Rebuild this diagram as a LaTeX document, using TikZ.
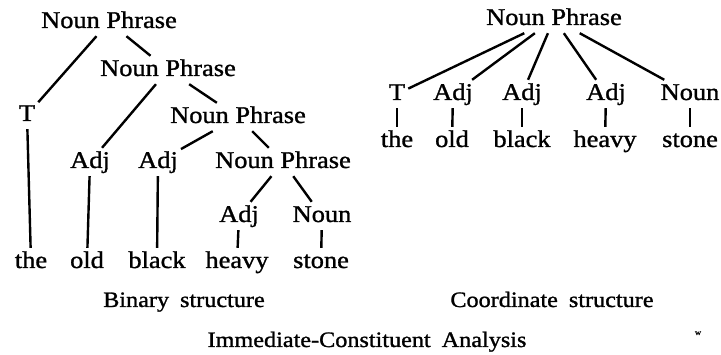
\documentclass[tikz,border=0pt]{standalone}
\usepackage{fontspec}
\setmainfont[FakeStretch=1.1,FakeBold=1.2]{Liberation Serif}
\usepackage{tikz}

\begin{document}
\begin{tikzpicture}[x=1pt,y=-1pt,
	cat/.style={anchor=base,inner sep=3pt,text height=17pt,text depth=5pt,font=\fontsize{24}{27}\selectfont},
	caption/.style={anchor=base,inner sep=0pt,font=\fontsize{22}{25}\selectfont},
	branch/.style={line width=2.4pt}]
	\useasboundingbox (0,0) rectangle (721,355);
	\node[cat] (np1) at (109,28) {Noun Phrase};
	\node[cat] (np2) at (168,76) {Noun Phrase};
	\node[cat] (np3) at (238,123) {Noun Phrase};
	\node[cat] (np4) at (283,168) {Noun Phrase};
	\node[cat] (t) at (27,121) {T};
	\node[cat] (adj1) at (90,168) {Adj};
	\node[cat] (adj2) at (158,168) {Adj};
	\node[cat] (adj3) at (239,222) {Adj};
	\node[cat] (noun) at (322,222) {Noun};
	\node[cat] (the) at (31,268) {the};
	\node[cat] (old) at (87,268) {old};
	\node[cat] (black) at (157,268) {black};
	\node[cat] (heavy) at (237,268) {heavy};
	\node[cat] (stone) at (321,268) {stone};
	\draw[branch] (np1) -- (t);
	\draw[branch] (np1) -- (np2);
	\draw[branch] (np2) -- (adj1);
	\draw[branch] (np2) -- (np3);
	\draw[branch] (np3) -- (adj2);
	\draw[branch] (np3) -- (np4);
	\draw[branch] (np4) -- (adj3);
	\draw[branch] (np4) -- (noun);
	\draw[branch] (t) -- (the);
	\draw[branch] (adj1) -- (old);
	\draw[branch] (adj2) -- (black);
	\draw[branch] (adj3) -- (heavy);
	\draw[branch] (noun) -- (stone);
	\node[caption] (bin) at (184,307) {Binary\enspace structure};
	\node[cat] (cnp) at (554,25) {Noun Phrase};
	\node[cat] (ct) at (397,100) {T};
	\node[cat] (cadj1) at (453,100) {Adj};
	\node[cat] (cadj2) at (522,100) {Adj};
	\node[cat] (cadj3) at (606,100) {Adj};
	\node[cat] (cnoun) at (690,100) {Noun};
	\node[cat] (cthe) at (397,147) {the};
	\node[cat] (cold) at (452,147) {old};
	\node[cat] (cblack) at (522,147) {black};
	\node[cat] (cheavy) at (605,147) {heavy};
	\node[cat] (cstone) at (690,147) {stone};
	\draw[branch] (cnp) -- (ct);
	\draw[branch] (cnp) -- (cadj1);
	\draw[branch] (cnp) -- (cadj2);
	\draw[branch] (cnp) -- (cadj3);
	\draw[branch] (cnp) -- (cnoun);
	\draw[branch] (ct) -- (cthe);
	\draw[branch] (cadj1) -- (cold);
	\draw[branch] (cadj2) -- (cblack);
	\draw[branch] (cadj3) -- (cheavy);
	\draw[branch] (cnoun) -- (cstone);
	\node[caption] (coord) at (552,307) {Coordinate\enspace structure};
	\node[caption] (title) at (367,347) {Immediate-Constituent\enspace Analysis};
	\node[anchor=base,inner sep=0pt,font=\fontsize{8}{9}\selectfont] (mark) at (698,335) {w};
\end{tikzpicture}
\end{document}
